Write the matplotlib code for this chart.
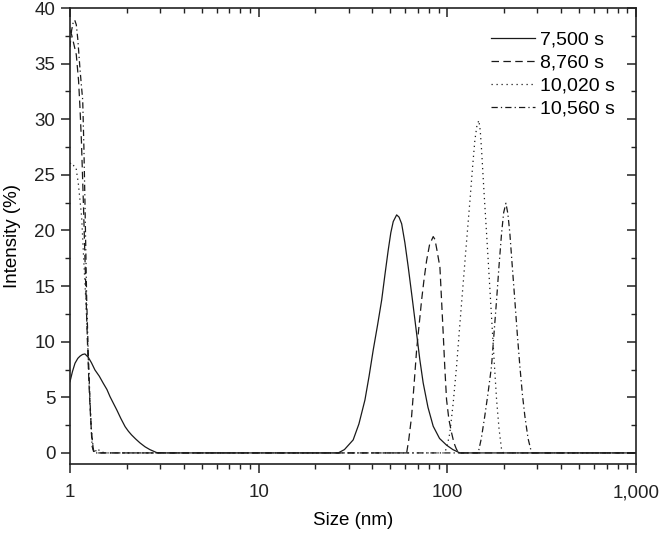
import matplotlib
matplotlib.use("Agg")
import matplotlib.pyplot as plt
from matplotlib.ticker import LogLocator, MultipleLocator, NullFormatter

plt.rcParams["font.family"] = ["Liberation Sans", "DejaVu Sans"]

# 7,500 s
size_7500 = [1.0, 1.03, 1.063, 1.10, 1.13, 1.165, 1.20, 1.25, 1.30, 1.356, 1.43, 1.50,
             1.57, 1.63, 1.70, 1.77, 1.86, 1.96, 2.04, 2.12, 2.23, 2.35, 2.5, 2.65, 2.88,
             3.2,
             26.4, 28.5, 31.7, 34.0, 36.6, 38.5, 40.5, 42.7, 44.9, 46.7, 48.6, 50.2, 51.7,
             53.9, 55.5, 57.3, 59.6, 62.1, 65.3, 68.7, 71.5, 74.5, 79.0, 84.2, 91.0, 99.1,
             107.0, 116.7, 1000.0]
int_7500 = [6.4, 7.3, 8.06, 8.5, 8.7, 8.85, 8.9, 8.6, 8.1, 7.46, 6.9, 6.27,
            5.7, 5.06, 4.45, 3.87, 3.1, 2.36, 1.95, 1.62, 1.25, 0.9, 0.55, 0.3, 0.03,
            0.0,
            0.0, 0.3, 1.17, 2.6, 4.76, 6.9, 9.26, 11.5, 13.75, 16.0, 18.2, 19.8, 20.8,
            21.4, 21.2, 20.6, 18.9, 16.7, 13.8, 10.8, 8.4, 6.3, 4.1, 2.4, 1.3, 0.7,
            0.3, 0.0, 0.0]

# 8,760 s
size_8760 = [1.0, 1.02, 1.04, 1.06, 1.08, 1.11, 1.13, 1.15, 1.165, 1.18, 1.195, 1.21,
             1.225, 1.24, 1.255, 1.27, 1.285, 1.30, 1.33, 1.36, 1.5,
             60.9, 62.5, 64.7, 66.7, 68.8, 71.0, 73.1, 75.3, 77.7, 80.5, 84.2, 86.0, 88.0,
             91.4, 93.2, 95.1, 97.0, 99.1, 102.0, 105.4, 108.5, 112.0, 116.0, 1000.0]
int_8760 = [38.0, 37.6, 37.0, 36.4, 35.8, 33.5, 31.0, 28.0, 25.0, 22.0, 18.7, 15.5,
            12.4, 9.5, 7.1, 5.0, 3.3, 1.8, 0.3, 0.0, 0.0,
            0.0, 1.2, 3.3, 6.2, 9.3, 11.6, 13.75, 15.6, 17.3, 18.7, 19.45, 19.2, 18.3,
            16.7, 13.8, 10.8, 7.7, 4.8, 3.0, 1.8, 0.9, 0.3, 0.0, 0.0]

# 10,020 s
size_10020 = [1.0, 1.02, 1.05, 1.076, 1.09, 1.106, 1.13, 1.153, 1.176, 1.20, 1.215, 1.24,
              1.255, 1.27, 1.285, 1.30, 1.33, 1.36, 1.40, 1.45, 1.55,
              97.0, 100.0, 103.2, 107.5, 112.0, 116.5, 121.4, 126.5, 131.9, 136.0, 140.0,
              143.5, 147.0, 149.5, 152.0, 156.5, 161.5, 166.5, 171.6, 177.0, 182.5, 188.0,
              194.0, 198.0, 1000.0]
int_10020 = [26.0, 26.1, 25.8, 25.7, 25.0, 24.3, 22.7, 21.2, 18.2, 15.3, 13.5, 10.0,
             7.6, 5.5, 3.6, 2.0, 0.3, 0.1, 0.4, 0.1, 0.0,
             0.0, 0.7, 1.8, 4.5, 7.8, 11.5, 15.25, 19.0, 22.7, 25.6, 28.1,
             29.4, 29.9, 29.0, 27.2, 23.5, 19.75, 16.0, 12.25, 8.4, 4.8, 2.2,
             0.3, 0.0, 0.0]

# 10,560 s
size_10560 = [1.0, 1.01, 1.02, 1.04, 1.06, 1.08, 1.10, 1.13, 1.15, 1.168, 1.185, 1.20,
              1.213, 1.226, 1.25, 1.276, 1.295, 1.31, 1.34, 1.5,
              145.8, 151.5, 158.0, 164.5, 171.6, 177.0, 182.5, 188.0, 194.0, 199.0, 204.5,
              209.5, 214.6, 221.0, 228.0, 235.0, 242.5, 250.0, 257.8, 268.0, 279.8, 1000.0]
int_10560 = [36.5, 37.3, 38.0, 38.7, 38.9, 38.5, 37.2, 34.5, 33.0, 31.7, 27.5, 22.7,
             18.2, 13.8, 9.0, 4.8, 2.3, 0.6, 0.0, 0.0,
             0.0, 1.3, 3.3, 5.4, 7.8, 10.8, 13.75, 16.8, 19.75, 21.6, 22.45,
             21.5, 19.75, 16.8, 13.75, 10.7, 7.8, 5.3, 3.3, 1.3, 0.0, 0.0]

x_ticks = [1, 10, 100, 1000]
x_tick_labels = ["1", "10", "100", "1,000"]
y_ticks = [0, 5, 10, 15, 20, 25, 30, 35, 40]

fig = plt.figure(figsize=(6.59, 5.34), dpi=100)
ax = fig.add_axes([0.1062, 0.131, 0.8588, 0.854])

lw = 0.9
ink = "#1a1a1a"
ax.plot(size_7500, int_7500, color=ink, linewidth=lw, linestyle="-", label="7,500 s")
ax.plot(size_8760, int_8760, color=ink, linewidth=lw, linestyle=(0, (6, 3.5)), label="8,760 s")
ax.plot(size_10020, int_10020, color=ink, linewidth=lw, linestyle=(0, (1, 3)), label="10,020 s")
ax.plot(size_10560, int_10560, color=ink, linewidth=lw, linestyle=(0, (5, 2.5, 1, 2.5)),
        label="10,560 s")

ax.set_xscale("log")
ax.set_xlim(1, 1000)
ax.set_ylim(-1, 40)
ax.set_xticks(x_ticks)
ax.set_xticklabels(x_tick_labels)
ax.xaxis.set_minor_locator(LogLocator(base=10, subs=range(2, 10)))
ax.xaxis.set_minor_formatter(NullFormatter())
ax.set_yticks(y_ticks)
ax.yaxis.set_minor_locator(MultipleLocator(2.5))

for spine in ax.spines.values():
    spine.set_linewidth(1.2)
    spine.set_color("#222222")

ax.tick_params(axis="both", which="both", labelsize=13.5, colors="#222222")
ax.tick_params(axis="both", which="major", length=6.5, width=1.1)
ax.tick_params(axis="both", which="minor", length=3.5, width=1.0)
ax.tick_params(axis="x", which="both", top=True, direction="out", pad=8)
ax.tick_params(axis="y", which="both", right=True, direction="out", pad=4)
for t in ax.xaxis.get_major_ticks() + ax.xaxis.get_minor_ticks():
    t.tick2line.set_marker(3)  # inward on top
for t in ax.yaxis.get_major_ticks() + ax.yaxis.get_minor_ticks():
    t.tick2line.set_marker(0)  # inward on right

ax.set_xlabel("Size (nm)", fontsize=13.5, labelpad=8)
ax.set_ylabel("Intensity (%)", fontsize=13.5, labelpad=10)

ax.legend(loc="upper right", bbox_to_anchor=(0.963, 0.95), frameon=False, fontsize=14,
          handlelength=2.3, handletextpad=0.25, labelspacing=0.28, borderpad=0,
          borderaxespad=0)

fig.savefig("out.png", dpi=100)
